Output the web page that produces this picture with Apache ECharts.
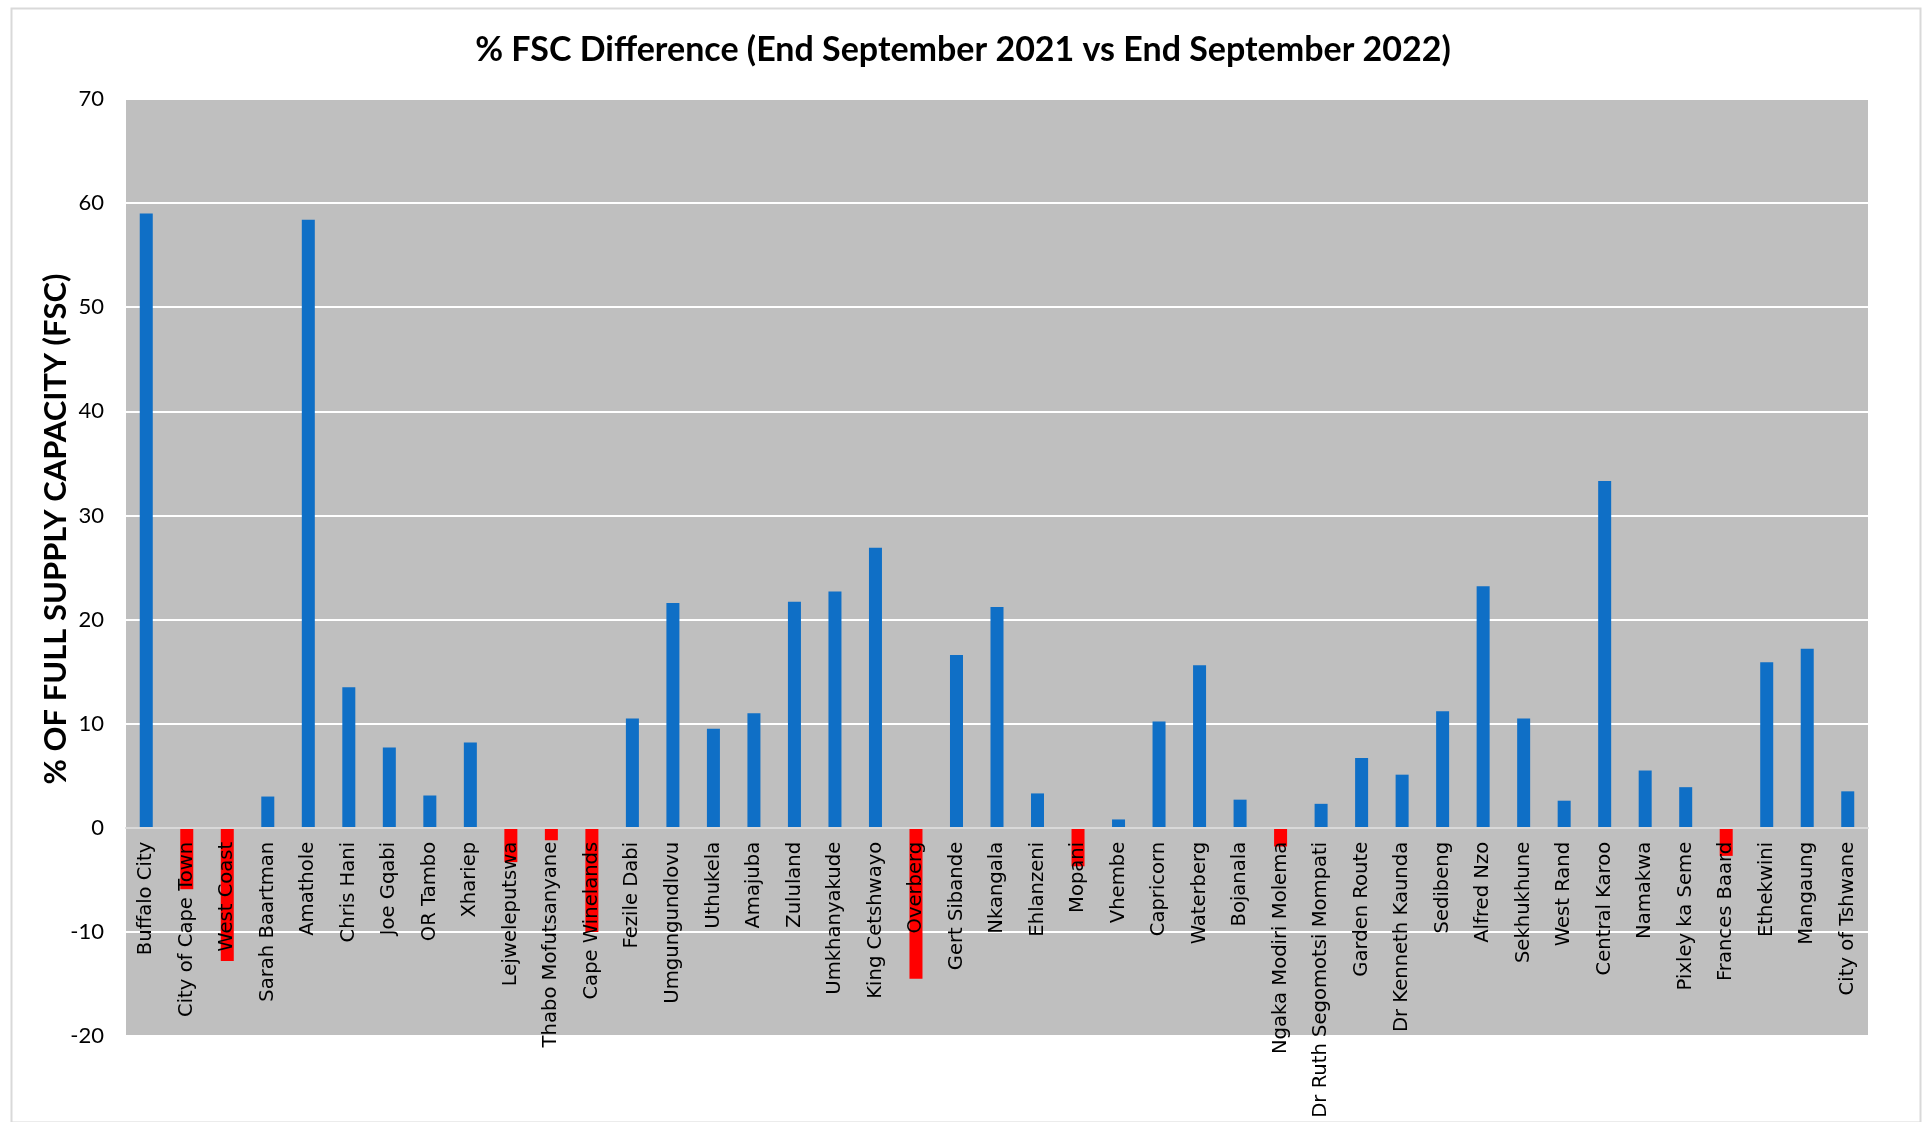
<!DOCTYPE html>
<html>
<head>
<meta charset="utf-8">
<script src="https://cdn.jsdelivr.net/npm/echarts@6/dist/echarts.min.js"></script>
<style>
  html, body { margin: 0; padding: 0; background: #fff; }
  #fscBar { width: 1926px; height: 1122px; }
</style>
</head>
<body>
<div id="fscBar"></div>
<script>
var districts = ['Buffalo City', 'City of Cape Town', 'West Coast', 'Sarah Baartman', 'Amathole',
  'Chris Hani', 'Joe Gqabi', 'OR Tambo', 'Xhariep', 'Lejweleputswa', 'Thabo Mofutsanyane',
  'Cape Winelands', 'Fezile Dabi', 'Umgungundlovu', 'Uthukela', 'Amajuba', 'Zululand',
  'Umkhanyakude', 'King Cetshwayo', 'Overberg', 'Gert Sibande', 'Nkangala', 'Ehlanzeni',
  'Mopani', 'Vhembe', 'Capricorn', 'Waterberg', 'Bojanala', 'Ngaka Modiri Molema',
  'Dr Ruth Segomotsi Mompati', 'Garden Route', 'Dr Kenneth Kaunda', 'Sedibeng', 'Alfred Nzo',
  'Sekhukhune', 'West Rand', 'Central Karoo', 'Namakwa', 'Pixley ka Seme', 'Frances Baard',
  'Ethekwini', 'Mangaung', 'City of Tshwane'];

var fscDiff = [59.0, -5.9, -12.8, 3.0, 58.4,
  13.5, 7.7, 3.1, 8.2, -3.3, -1.2,
  -10.0, 10.5, 21.6, 9.5, 11.0, 21.7,
  22.7, 26.9, -14.5, 16.6, 21.2, 3.3,
  -3.7, 0.8, 10.2, 15.6, 2.7, -1.8,
  2.3, 6.7, 5.1, 11.2, 23.2,
  10.5, 2.6, 33.3, 5.5, 3.9, -2.7,
  15.9, 17.2, 3.5];

var yMin = -20, yMax = 70, yStep = 10;

var gridTop = 99, gridBottom = 86;
var plotHeight = 1122 - gridTop - gridBottom;
// category labels sit on the zero line, Excel style
var zeroOffset = plotHeight * (0 - yMin) / (yMax - yMin);

var chart = echarts.init(document.getElementById('fscBar'));

var option = {
  animation: false,
  backgroundColor: '#ffffff',
  title: {
    text: '% FSC Difference (End September 2021 vs End September 2022)',
    left: 'center',
    top: 28,
    textStyle: {
      fontFamily: 'Lato',
      fontWeight: 'bold',
      fontSize: 34,
      color: '#000'
    }
  },
  graphic: [{
    type: 'rect',
    left: 9,
    top: 6,
    shape: { width: 1909, height: 1114 },
    style: { fill: 'none', stroke: '#D9D9D9', lineWidth: 2 },
    silent: true
  }, {
    type: 'text',
    x: 56,
    y: 529,
    rotation: Math.PI / 2,
    silent: true,
    style: {
      text: '% OF FULL SUPPLY CAPACITY (FSC)',
      font: 'bold 31px Lato',
      fill: '#000',
      align: 'center',
      verticalAlign: 'middle'
    }
  }],
  grid: {
    left: 126,
    right: 58,
    top: gridTop,
    bottom: gridBottom,
    show: true,
    backgroundColor: '#BFBFBF',
    borderWidth: 0,
    outerBoundsMode: 'none'
  },
  xAxis: {
    type: 'category',
    data: districts,
    position: 'bottom',
    offset: -zeroOffset,
    z: 5,
    axisTick: { show: false },
    axisLine: {
      onZero: false,
      lineStyle: { color: '#D9D9D9', width: 2 }
    },
    axisLabel: {
      interval: 0,
      rotate: 90,
      margin: 14,
      fontFamily: 'DejaVu Sans',
      fontSize: 19.6,
      color: '#000'
    }
  },
  yAxis: {
    type: 'value',
    min: yMin,
    max: yMax,
    interval: yStep,
    axisLine: { show: false },
    axisTick: { show: false },
    splitLine: {
      lineStyle: { color: '#FFFFFF', width: 2 }
    },
    axisLabel: {
      margin: 22,
      fontFamily: 'Lato',
      fontSize: 22,
      color: '#000'
    }
  },
  series: [{
    name: '% FSC Difference',
    type: 'bar',
    data: fscDiff,
    barWidth: 13,
    itemStyle: {
      color: function (p) {
        return p.value < 0 ? '#FF0000' : '#0F6FC6';
      }
    }
  }]
};

chart.setOption(option);
</script>
</body>
</html>
